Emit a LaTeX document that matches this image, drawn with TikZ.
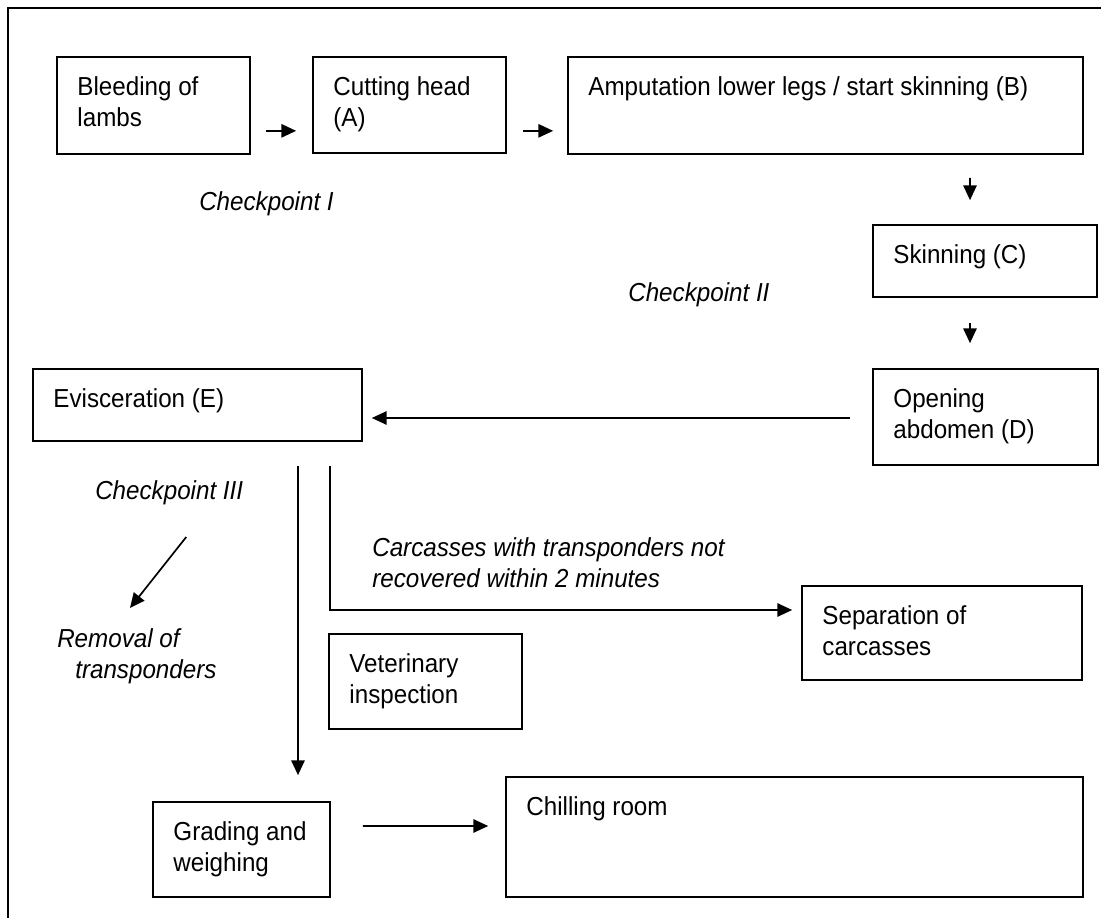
\documentclass[tikz,border=0pt]{standalone}
\usepackage{fontspec}
\setmainfont{Liberation Sans}[FakeStretch=0.93]
\usetikzlibrary{arrows.meta,fit}

\tikzset{
  box/.style={draw, line width=1.2pt, inner sep=0pt},
  txt/.style={anchor=north west, inner sep=0pt, align=left},
  note/.style={txt, font=\fontsize{18.5}{22}\selectfont\itshape},
  flow/.style={->, line width=1.2pt},
}

\begin{document}
\begin{tikzpicture}[x=0.025cm, y=-0.025cm, >={Triangle[length=10.5pt,width=9.5pt]},
    font=\fontsize{18.5}{22}\selectfont]
    \useasboundingbox (0,0) rectangle (1101,918);
    % frame
    \draw[line width=1pt] (8,918) -- (8,8) -- (1101,8);

    % top row
    \node[box, fit={(57,57) (250,154)}] (bleed) {};
    \node[txt] at ([shift={(21,20)}]bleed.north west) {Bleeding of\\lambs};
    \node[box, fit={(313,57) (506,153)}] (cut) {};
    \node[txt] at ([shift={(21,20)}]cut.north west) {Cutting head\\(A)};
    \node[box, fit={(568,57) (1083,154)}] (amp) {};
    \node[txt] at ([shift={(21,20)}]amp.north west) {Amputation lower legs / start skinning (B)};
    \node[note, anchor=west] (ckone) at (199,204) {Checkpoint I};

    % right column
    \node[box, fit={(873,225) (1097,297)}] (skin) {};
    \node[txt] at ([shift={(21,20)}]skin.north west) {Skinning (C)};
    \node[box, fit={(873,369) (1098,465)}] (open) {};
    \node[txt] at ([shift={(21,20)}]open.north west) {Opening\\abdomen (D)};
    \node[note, anchor=west] (cktwo) at (628,295) {Checkpoint II};

    % evisceration and after
    \node[box, fit={(33,369) (362,441)}] (evisc) {};
    \node[txt] at ([shift={(21,20)}]evisc.north west) {Evisceration (E)};
    \node[note, anchor=west] (ckthree) at (95,493) {Checkpoint III};
    \node[note] (remove) at (57,628) {Removal of\\\hspace*{0.45cm}transponders};
    \node[note] (late) at (372,537) {Carcasses with transponders not\\recovered within 2 minutes};
    \node[box, fit={(802,586) (1082,680)}] (sep) {};
    \node[txt] at ([shift={(21,20)}]sep.north west) {Separation of\\carcasses};
    \node[box, fit={(329,634) (522,729)}] (vet) {};
    \node[txt] at ([shift={(21,20)}]vet.north west) {Veterinary\\inspection};
    \node[box, fit={(153,802) (330,897)}] (grade) {};
    \node[txt] at ([shift={(21,20)}]grade.north west) {Grading and\\weighing};
    \node[box, fit={(506,777) (1083,897)}] (chill) {};
    \node[txt] at ([shift={(21,20)}]chill.north west) {Chilling room};

    % connectors
    \draw[flow] ([shift={(15,-24)}]bleed.south east) -- ([shift={(-16,-23)}]cut.south west);
    \draw[flow] ([shift={(16,-23)}]cut.south east) -- ([shift={(-14,-24)}]amp.south west);
    \draw[flow] ([shift={(144.5,23)}]amp.south) -- ([shift={(-15,-24)}]skin.north);
    \draw[flow] ([shift={(-15,25)}]skin.south) -- ([shift={(-15.5,-25)}]open.north);
    \draw[flow] ([shift={(-22,1)}]open.west) -- ([shift={(9,13)}]evisc.east);
    \draw[flow] ([shift={(100.5,24)}]evisc.south) -- ([shift={(56.5,-26)}]grade.north);
    \draw[flow] ([shift={(132.5,24)}]evisc.south) |- ([shift={(-9,-23)}]sep.west);
    \draw[flow] ([shift={(17,44)}]ckthree.center) -- ([shift={(73,-20)}]remove.north west);
    \draw[flow] ([shift={(32,-23.5)}]grade.east) -- ([shift={(-17,-11)}]chill.west);
\end{tikzpicture}
\end{document}
